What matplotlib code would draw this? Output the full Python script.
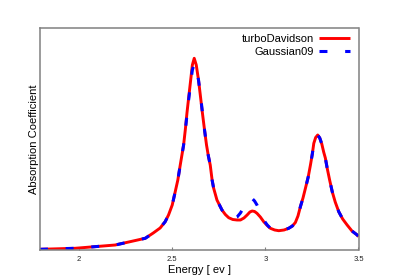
import matplotlib
matplotlib.use("Agg")
import matplotlib.pyplot as plt

plt.rcParams['font.family'] = ['Liberation Sans', 'DejaVu Sans']

# Energy (eV) and absorption (arbitrary units)
energy_td = [1.790, 1.978, 2.194, 2.355, 2.398, 2.435, 2.462, 2.480, 2.500, 2.516, 2.530,
             2.543, 2.552, 2.561, 2.570, 2.579, 2.588, 2.597, 2.608, 2.618, 2.629,
             2.641, 2.650, 2.660, 2.672, 2.684, 2.694, 2.704, 2.714, 2.722, 2.740,
             2.767, 2.785, 2.803, 2.825, 2.848, 2.866, 2.885, 2.902, 2.917, 2.929,
             2.942, 2.955, 2.973, 2.991, 3.010, 3.027, 3.050, 3.072, 3.100, 3.125,
             3.145, 3.161, 3.175, 3.188, 3.202, 3.215, 3.230, 3.242, 3.252, 3.260,
             3.270, 3.281, 3.292, 3.303, 3.313, 3.322, 3.332, 3.345, 3.359, 3.375,
             3.394, 3.415, 3.439, 3.465, 3.493, 3.500]
absorb_td = [0.7, 1.7, 5.0, 11.7, 17.0, 22.0, 28.3, 35.0, 45.0, 58.3, 70.0,
             85.0, 95.0, 105.0, 120.0, 137.0, 152.0, 166.7, 185.0, 191.7, 185.0,
             170.0, 156.0, 140.0, 122.0, 105.0, 94.0, 85.0, 70.0, 62.0, 50.0,
             40.0, 35.5, 32.3, 30.5, 30.0, 30.0, 32.0, 35.0, 38.0, 39.0,
             38.5, 36.7, 33.0, 28.3, 24.5, 21.7, 20.0, 19.3, 20.0, 21.7,
             24.0, 27.5, 34.0, 43.3, 52.0, 61.7, 73.0, 85.0, 96.0, 106.7,
             112.5, 115.0, 112.0, 106.0, 98.0, 92.0, 81.7, 70.0, 58.3, 48.0,
             38.3, 31.0, 25.0, 19.0, 15.0, 13.3]

energy_g09 = [1.790, 1.978, 2.194, 2.355, 2.398, 2.435, 2.462, 2.480, 2.500, 2.516, 2.530,
              2.543, 2.552, 2.561, 2.570, 2.579, 2.588, 2.597, 2.608, 2.618, 2.629,
              2.641, 2.650, 2.660, 2.672, 2.684, 2.694, 2.704, 2.714, 2.722, 2.740,
              2.767, 2.785, 2.803, 2.825, 2.848, 2.866, 2.885, 2.902, 2.917, 2.929,
              2.942, 2.955, 2.973, 2.991, 3.010, 3.027, 3.050, 3.072, 3.100, 3.125,
              3.145, 3.161, 3.175, 3.188, 3.202, 3.215, 3.230, 3.242, 3.252, 3.260,
              3.270, 3.281, 3.292, 3.303, 3.313, 3.322, 3.332, 3.345, 3.359, 3.375,
              3.394, 3.415, 3.439, 3.465, 3.493, 3.500]
absorb_g09 = [0.7, 1.7, 5.0, 11.7, 17.0, 22.0, 28.3, 35.0, 45.0, 58.3, 70.0,
              85.0, 95.0, 105.0, 119.0, 135.0, 150.0, 164.0, 180.0, 186.0, 183.0,
              170.0, 157.0, 141.0, 122.0, 105.0, 94.0, 85.0, 70.0, 62.0, 50.0,
              40.0, 35.5, 32.3, 31.0, 33.0, 37.0, 43.0, 48.5, 51.0, 51.5,
              49.0, 45.0, 37.5, 30.0, 25.0, 21.7, 20.0, 19.3, 20.0, 21.7,
              24.0, 27.5, 34.0, 43.3, 52.0, 61.7, 73.0, 85.0, 96.0, 106.7,
              112.5, 115.0, 112.0, 106.0, 98.0, 92.0, 81.7, 70.0, 58.3, 48.0,
              38.3, 31.0, 25.0, 19.0, 15.0, 13.3]

xticks = [2, 2.5, 3, 3.5]
xtick_labels = ['2', '2.5', '3', '3.5']

fig = plt.figure(figsize=(3.99, 2.79), dpi=100)
ax = fig.add_axes([40/399, 29/279, 318.5/399, 222/279])

ax.plot(energy_td, absorb_td, color='#ff0000', lw=2.1, label='turboDavidson',
        solid_capstyle='butt')
ax.plot(energy_g09, absorb_g09, color='#0000ff', lw=2.2, label='Gaussian09',
        dashes=(2.6, 5.8), dash_capstyle='butt')

ax.set_xlim(1.79, 3.5)
ax.set_ylim(0, 222)
ax.set_xticks(xticks)
ax.set_xticklabels(xtick_labels)
ax.set_yticks([])
ax.tick_params(axis='x', direction='in', length=2.2, width=0.8, color='#808080',
               labelsize=5.5, pad=4, labelcolor='#222222')
for s in ax.spines.values():
    s.set_color('#808080')
    s.set_linewidth(1.1)

ax.set_xlabel('Energy [ ev ]', fontsize=8, labelpad=2)
ax.set_ylabel('Absorption Coefficient', fontsize=8, labelpad=1)

leg = ax.legend(loc='upper right', frameon=False, markerfirst=False, fontsize=8,
                handlelength=2.8, handletextpad=0.4, labelspacing=0.25,
                borderaxespad=0.3, bbox_to_anchor=(0.997, 1.009))

fig.savefig('out.png', dpi=100)
